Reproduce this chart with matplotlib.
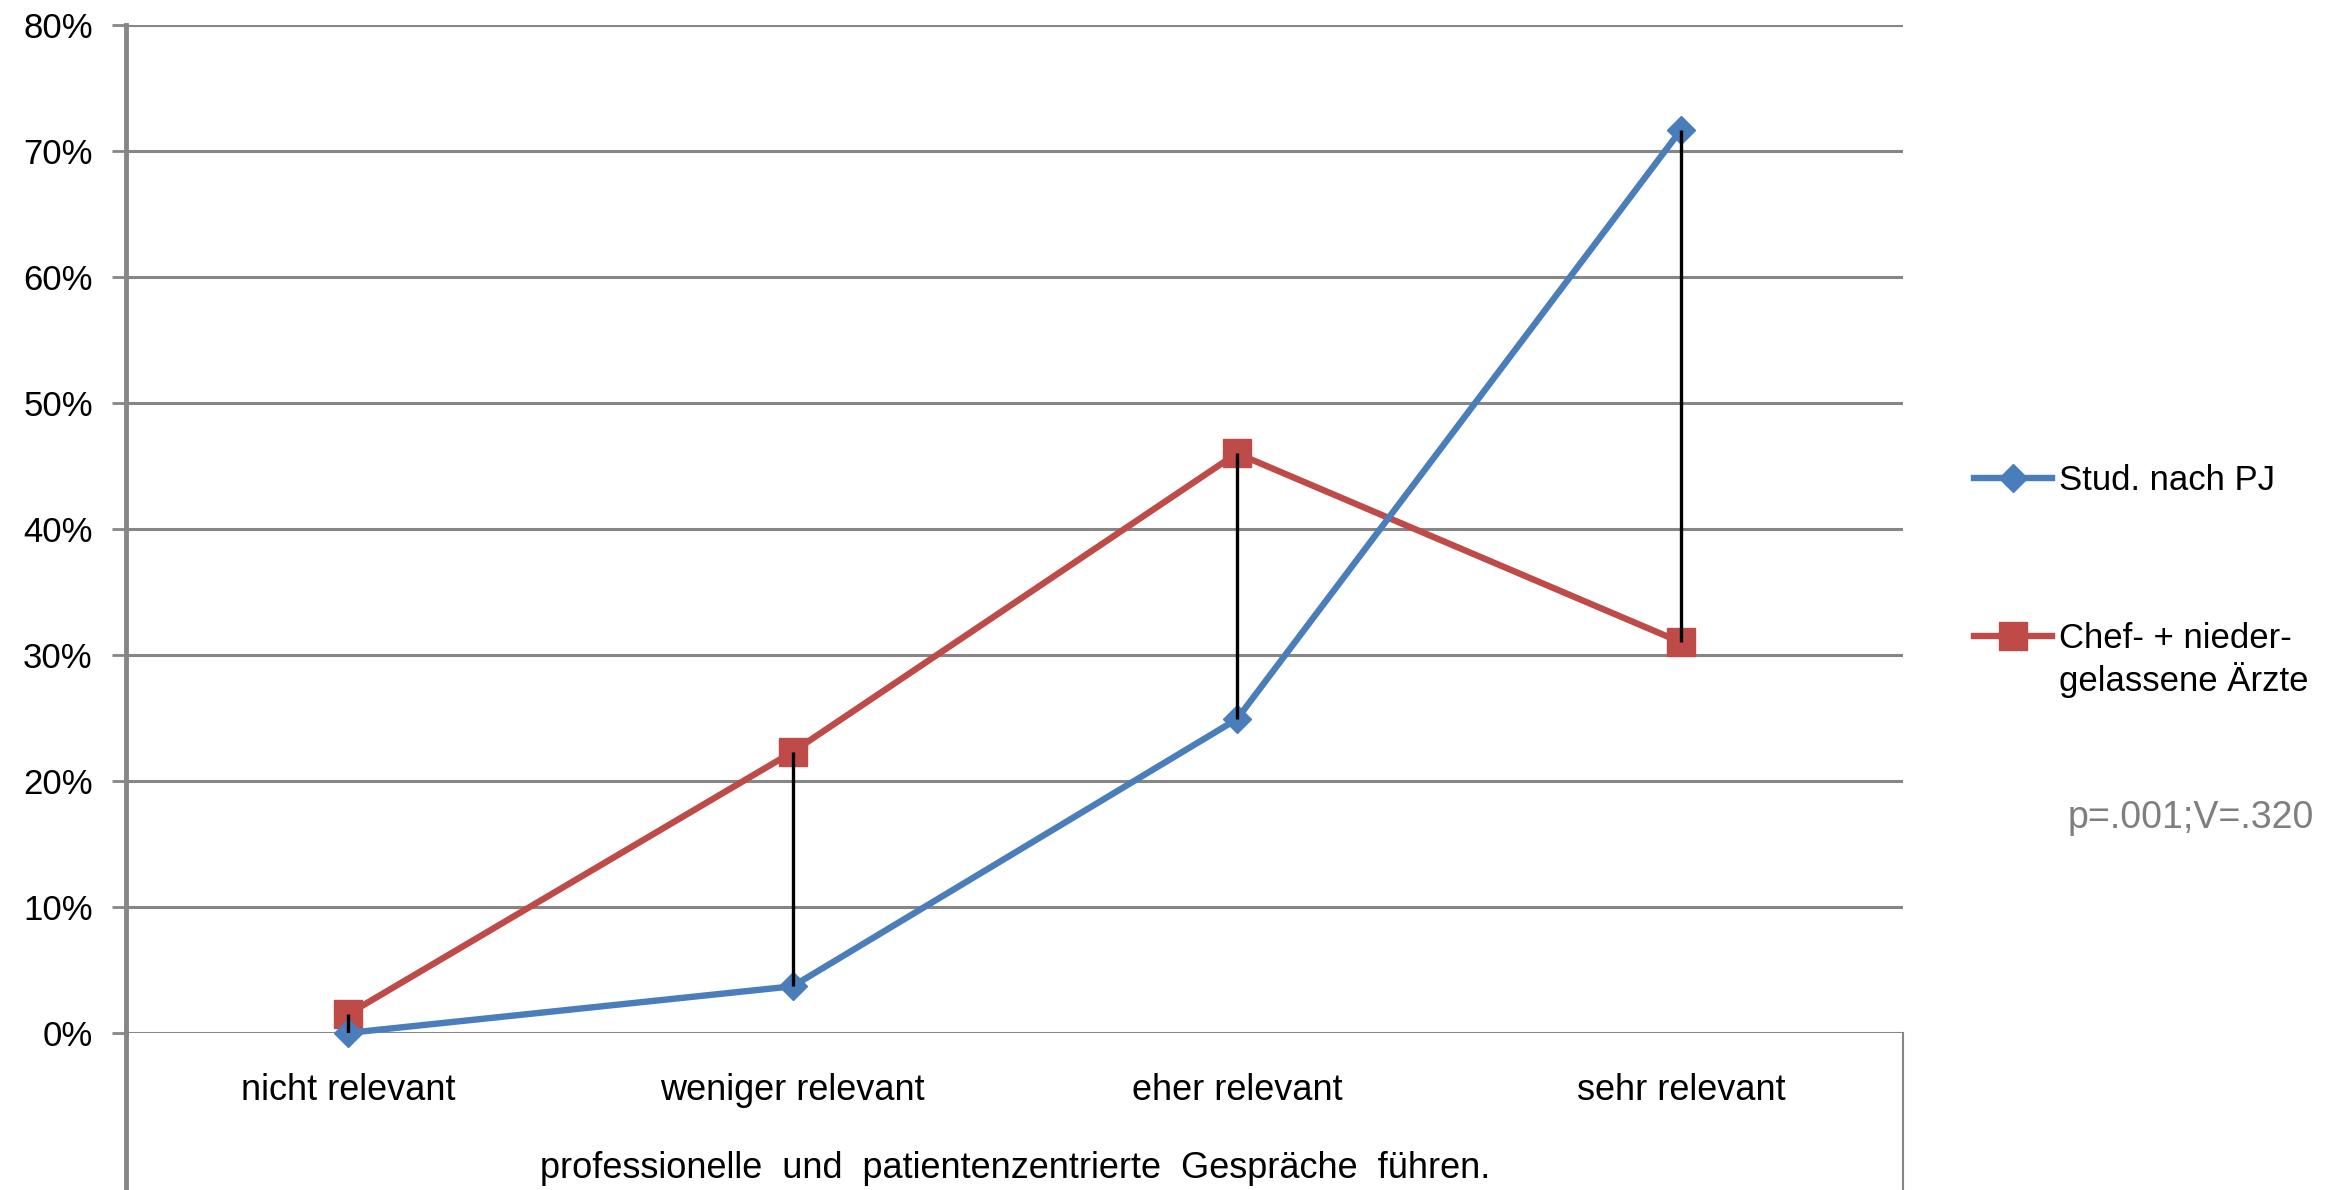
import matplotlib.pyplot as plt
from matplotlib.lines import Line2D

plt.rcParams['font.family'] = ['Liberation Sans', 'DejaVu Sans']

# Daten
kategorien = ['nicht relevant', 'weniger relevant', 'eher relevant', 'sehr relevant']
stud_nach_pj = [0.0, 3.7, 24.9, 71.7]
aerzte = [1.5, 22.3, 46.0, 31.0]
y_ticks = [0, 10, 20, 30, 40, 50, 60, 70, 80]
y_labels = ['0%', '10%', '20%', '30%', '40%', '50%', '60%', '70%', '80%']

blau = '#4A7EBB'
rot = '#BE4B48'
grau = '#868686'

fig = plt.figure(figsize=(23.44, 11.90), dpi=100)
ax = fig.add_axes([0.0538, 0.132, 0.812 - 0.0538, 0.979 - 0.132])

x = range(len(kategorien))

# Gitternetz
for t in y_ticks:
    ax.axhline(t, color=grau, lw=2.2, zorder=1)

# Hoch-Tief-Linien zwischen den Reihen
ax.vlines(x, stud_nach_pj, aerzte, color='black', lw=2.4, zorder=4)

ax.plot(x, stud_nach_pj, color=blau, lw=4.6, marker='D', markersize=14,
        label='Stud. nach PJ', zorder=3, clip_on=False)
ax.plot(x, aerzte, color=rot, lw=4.6, marker='s', markersize=20,
        label='Chef- + nieder-', zorder=2, clip_on=False)

ax.set_xlim(-0.5, 3.5)
ax.set_ylim(0, 80)
ax.set_yticks(y_ticks)
ax.set_yticklabels(y_labels, fontsize=25)
ax.tick_params(axis='y', length=10, width=2, color=grau, pad=14)
ax.set_xticks(list(x))
ax.set_xticklabels(kategorien, fontsize=26)
ax.tick_params(axis='x', length=0, pad=29)

for s in ['top', 'right', 'bottom']:
    ax.spines[s].set_visible(False)
ax.spines['left'].set_color(grau)
ax.spines['left'].set_linewidth(3.5)

# Rahmen unterhalb der Achse
ax.add_line(Line2D([0, 0], [0, -0.2], transform=ax.transAxes, color=grau,
                   lw=3.5, clip_on=False))
ax.add_line(Line2D([1, 1], [0, -0.2], transform=ax.transAxes, color=grau,
                   lw=1.5, clip_on=False))

ax.set_xlabel('professionelle  und  patientenzentrierte  Gespräche  führen.',
              fontsize=26, labelpad=31)

leg = ax.legend(loc='center left', bbox_to_anchor=(0.842, 0.530),
                bbox_transform=fig.transFigure, frameon=False, fontsize=25,
                handlelength=2.25, handletextpad=0.2, labelspacing=3.6,
                borderaxespad=0, borderpad=0)

# zweite Zeile der Legendenbeschriftung direkt unter der ersten
fig.canvas.draw()
bb = leg.get_texts()[1].get_window_extent()
x0, y0 = fig.transFigure.inverted().transform((bb.x0, bb.y0))
fig.text(x0, y0 - 0.006, 'gelassene Ärzte', fontsize=25, ha='left', va='top')

fig.text(0.882, 0.313, 'p=.001;V=.320', fontsize=27, color='#7F7F7F',
         ha='left', va='center')

fig.savefig('out.png', dpi=100)
